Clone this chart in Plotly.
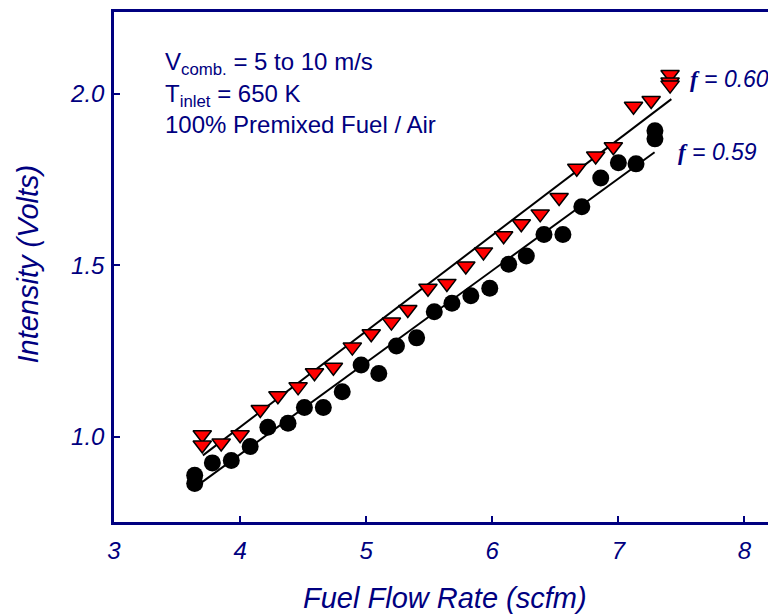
import plotly.graph_objects as go

NAVY = "#000080"

# f = 0.60 series (red down-triangles)
x_060 = [3.70, 3.70, 3.85, 4.00, 4.16, 4.30, 4.46, 4.59, 4.74, 4.89, 5.04, 5.20,
         5.33, 5.49, 5.64, 5.79, 5.93, 6.09, 6.23, 6.38, 6.53, 6.67, 6.82, 6.96,
         7.12, 7.26, 7.41, 7.41, 7.41]
y_060 = [1.005, 0.975, 0.981, 1.005, 1.079, 1.119, 1.145, 1.186, 1.202, 1.261,
         1.300, 1.334, 1.371, 1.433, 1.447, 1.498, 1.539, 1.586, 1.621, 1.650,
         1.698, 1.783, 1.819, 1.846, 1.964, 1.981, 2.057, 2.035, 2.026]

# f = 0.59 series (black circles)
x_059 = [3.64, 3.64, 3.78, 3.93, 4.08, 4.22, 4.38, 4.51, 4.66, 4.81, 4.96, 5.10,
         5.24, 5.40, 5.54, 5.68, 5.83, 5.98, 6.13, 6.27, 6.41, 6.56, 6.71, 6.86,
         7.00, 7.14, 7.29, 7.29]
y_059 = [0.887, 0.863, 0.923, 0.930, 0.971, 1.027, 1.039, 1.085, 1.085, 1.131,
         1.209, 1.184, 1.264, 1.288, 1.364, 1.389, 1.411, 1.433, 1.503, 1.527,
         1.590, 1.590, 1.671, 1.755, 1.799, 1.796, 1.893, 1.869]

# fitted lines (end points)
fit060_x = [3.705, 7.42]
fit060_y = [0.945, 1.985]
fit059_x = [3.628, 7.287]
fit059_y = [0.848, 1.830]

x_ticks = [3, 4, 5, 6, 7, 8]
y_ticks = [1.0, 1.5, 2.0]
y_tick_text = ["1.0", "1.5", "2.0"]

# page body has an 8px margin; plot area spans page x 114..776, y 9..522
def xp(px):
    return (px - 114) / 662.0

def yp(py):
    return (522 - py) / 513.0

fig = go.Figure()
fig.add_trace(go.Scatter(x=fit060_x, y=fit060_y, mode="lines",
                         line=dict(color="black", width=2), showlegend=False))
fig.add_trace(go.Scatter(x=fit059_x, y=fit059_y, mode="lines",
                         line=dict(color="black", width=2), showlegend=False))
fig.add_trace(go.Scatter(x=x_059, y=y_059, mode="markers",
                         marker=dict(symbol="circle", size=17, color="black",
                                     line=dict(color="black", width=0)),
                         showlegend=False))
fig.add_trace(go.Scatter(x=x_060, y=y_060, mode="markers",
                         marker=dict(symbol="triangle-down", size=16, color="#ff0000",
                                     line=dict(color="black", width=1.5)),
                         showlegend=False))

tickfont = dict(family="Liberation Sans, Arial, sans-serif", size=24, color=NAVY,
                style="italic")

fig.update_xaxes(range=[3, 8.25], tickvals=x_ticks, ticks="inside", ticklen=6,
                 tickwidth=1.5, tickcolor=NAVY, showline=True, linecolor=NAVY,
                 linewidth=2.5, mirror=True, showgrid=False, zeroline=False,
                 tickfont=tickfont, ticklabelstandoff=5)
fig.update_yaxes(range=[0.7504, 2.2394], tickvals=y_ticks, ticktext=y_tick_text,
                 ticks="inside", ticklen=6, tickwidth=1.5, tickcolor=NAVY,
                 showline=True, linecolor=NAVY, linewidth=2.5, mirror=False,
                 showgrid=False, zeroline=False, tickfont=tickfont,
                 ticklabelstandoff=2)

ann_font = dict(family="Liberation Sans, Arial, sans-serif", size=24, color=NAVY)
title_font = dict(family="Liberation Sans, Arial, sans-serif", size=29, color=NAVY,
                  style="italic")
flab_font = dict(family="Liberation Sans, Arial, sans-serif", size=23, color=NAVY,
                 style="italic")

annotations = [
    dict(text="V<sub>comb.</sub> = 5 to 10 m/s", x=xp(163), y=yp(61),
         xref="paper", yref="paper", xanchor="left", yanchor="middle",
         showarrow=False, font=ann_font),
    dict(text="T<sub>inlet</sub> = 650 K", x=xp(163), y=yp(93),
         xref="paper", yref="paper", xanchor="left", yanchor="middle",
         showarrow=False, font=ann_font),
    dict(text="100% Premixed Fuel / Air", x=xp(163), y=yp(122),
         xref="paper", yref="paper", xanchor="left", yanchor="middle",
         showarrow=False, font=ann_font),
    dict(text='<span style="font-family:Liberation Serif;font-weight:bold">f</span> = 0.60',
         x=xp(688), y=yp(76), xref="paper", yref="paper",
         xanchor="left", yanchor="middle", showarrow=False, font=flab_font),
    dict(text='<span style="font-family:Liberation Serif;font-weight:bold">f</span> = 0.59',
         x=xp(676), y=yp(150), xref="paper", yref="paper",
         xanchor="left", yanchor="middle", showarrow=False, font=flab_font),
    dict(text="Fuel Flow Rate (scfm)", x=xp(445), y=yp(598), xref="paper", yref="paper",
         xanchor="center", yanchor="middle", showarrow=False,
         font=title_font),
    dict(text="Intensity (Volts)", x=xp(28), y=yp(263), xref="paper", yref="paper",
         xanchor="center", yanchor="middle", textangle=-90,
         showarrow=False, font=title_font),
]

fig.update_layout(width=776, height=608, margin=dict(l=106, r=8, t=1, b=94),
                  plot_bgcolor="white", paper_bgcolor="white",
                  annotations=annotations)

fig.write_html("out.html")
